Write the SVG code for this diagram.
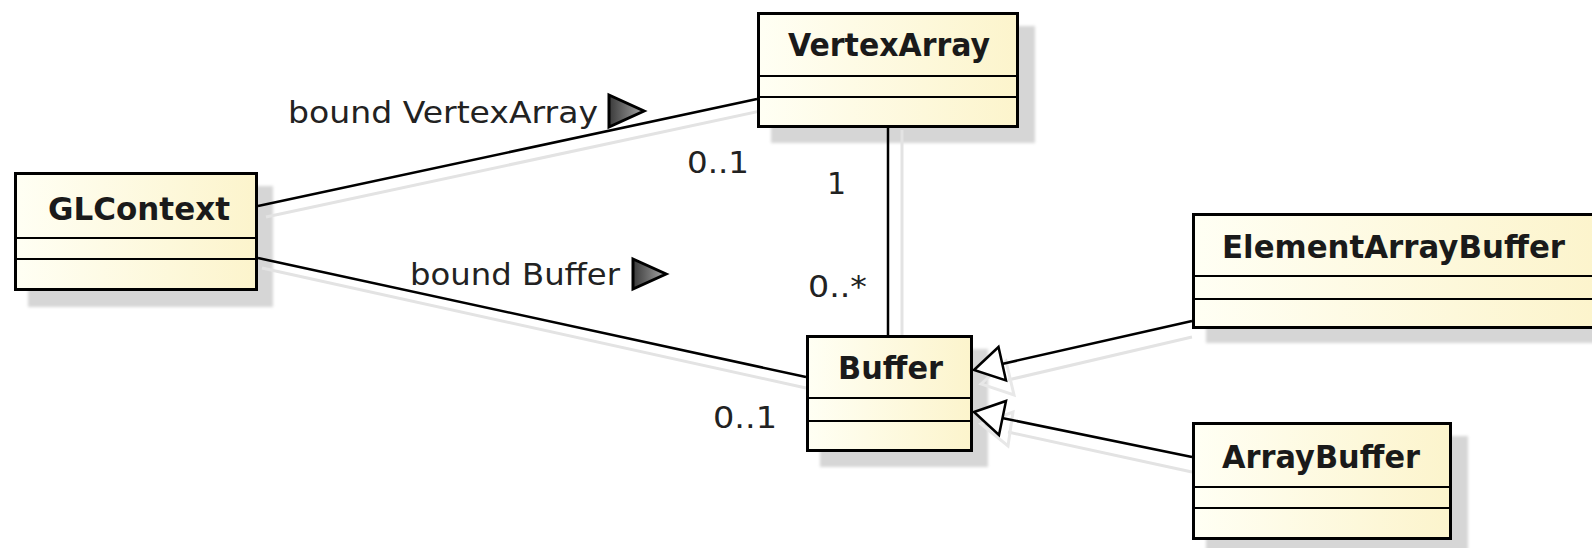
<svg xmlns="http://www.w3.org/2000/svg" width="1592" height="548" viewBox="0 0 1592 548">
<style>
.box{fill:url(#fillg);stroke:#000;stroke-width:3}
.div{stroke:#000;stroke-width:2}
.shadow{fill:#d6d6d6;filter:url(#blur)}
.name{font-family:"DejaVu Sans",sans-serif;font-weight:bold;font-size:32px;fill:#1a1a1a}
.lbl{font-family:"DejaVu Sans",sans-serif;font-size:30px;fill:#222}
.conn{stroke:#000;stroke-width:2.5;fill:none}
.cshadow{stroke:#e3e3e3;stroke-width:3;fill:none}
.gen{fill:#fff;stroke:#000;stroke-width:2.5;stroke-linejoin:miter}
.dir{fill:url(#dirg);stroke:#000;stroke-width:3;stroke-linejoin:miter}
</style>
<defs>
<linearGradient id="fillg" x1="0" y1="0" x2="1" y2="0">
<stop offset="0" stop-color="#fffff4"/>
<stop offset="1" stop-color="#fcf4cc"/>
</linearGradient>
<linearGradient id="dirg" x1="0" y1="0" x2="1" y2="0">
<stop offset="0" stop-color="#3a3a3a"/>
<stop offset="1" stop-color="#a8a8a8"/>
</linearGradient>
<filter id="blur" x="-10%" y="-10%" width="120%" height="120%">
<feGaussianBlur stdDeviation="1.5"/>
</filter>
</defs>
<rect width="1592" height="548" fill="#fff"/>

<g id="shadows">
<rect class="shadow" x="28" y="186" width="245" height="121"/>
<rect class="shadow" x="771" y="26" width="264" height="117"/>
<rect class="shadow" x="820" y="349" width="168" height="118"/>
<rect class="shadow" x="1206" y="227" width="400" height="116"/>
<rect class="shadow" x="1206" y="436" width="262" height="120"/>
<line class="cshadow" x1="266" y1="217" x2="765" y2="110"/>
<line class="cshadow" x1="902" y1="130" x2="902" y2="345"/>
<line class="cshadow" x1="262" y1="268" x2="806" y2="388"/>
<line class="cshadow" x1="1192" y1="337" x2="1008" y2="380"/>
<line class="cshadow" x1="1192" y1="472" x2="1008" y2="432"/>
<polygon points="981,384 1006,361 1014,395" fill="none" stroke="#e8e8e8" stroke-width="3"/>
<polygon points="981,424 1013,412 1008,446" fill="none" stroke="#e8e8e8" stroke-width="3"/>
</g>

<g id="connectors">
<line class="conn" x1="258" y1="206" x2="757" y2="99"/>
<line class="conn" x1="888" y1="128" x2="888" y2="335"/>
<line class="conn" x1="258" y1="258" x2="806" y2="377"/>
<line class="conn" x1="1192" y1="321" x2="1002" y2="364"/>
<line class="conn" x1="1192" y1="457" x2="1002" y2="418"/>
<polygon class="gen" points="974,370 998.5,347 1006,380.5"/>
<polygon class="gen" points="974,412 1006,401 999,435"/>
<polygon class="dir" points="609,95 644,111 609,127"/>
<polygon class="dir" points="633,259 666,274 633,289"/>
<text class="lbl" x="288" y="123" textLength="310" lengthAdjust="spacingAndGlyphs">bound VertexArray</text>
<text class="lbl" x="410" y="285" textLength="210" lengthAdjust="spacingAndGlyphs">bound Buffer</text>
<text class="lbl" x="687" y="173" textLength="62" lengthAdjust="spacingAndGlyphs">0..1</text>
<text class="lbl" x="827" y="194">1</text>
<text class="lbl" x="808" y="297" textLength="59" lengthAdjust="spacingAndGlyphs">0..*</text>
<text class="lbl" x="713" y="428" textLength="64" lengthAdjust="spacingAndGlyphs">0..1</text>
</g>

<g id="GLContext">
<rect class="box" x="15.5" y="173.5" width="241" height="116"/>
<line class="div" x1="15.5" y1="238" x2="256.5" y2="238"/>
<line class="div" x1="15.5" y1="259" x2="256.5" y2="259"/>
<text class="name" x="48" y="220" textLength="182" lengthAdjust="spacingAndGlyphs">GLContext</text>
</g>

<g id="VertexArray">
<rect class="box" x="758.5" y="13.5" width="259" height="113"/>
<line class="div" x1="758.5" y1="76" x2="1017.5" y2="76"/>
<line class="div" x1="758.5" y1="97" x2="1017.5" y2="97"/>
<text class="name" x="788" y="56" textLength="202" lengthAdjust="spacingAndGlyphs">VertexArray</text>
</g>

<g id="Buffer">
<rect class="box" x="807.5" y="336.5" width="164" height="114"/>
<line class="div" x1="807.5" y1="398" x2="971.5" y2="398"/>
<line class="div" x1="807.5" y1="421" x2="971.5" y2="421"/>
<text class="name" x="838" y="379" textLength="105" lengthAdjust="spacingAndGlyphs">Buffer</text>
</g>

<g id="ElementArrayBuffer">
<rect class="box" x="1193.5" y="214.5" width="404" height="113"/>
<line class="div" x1="1193.5" y1="276" x2="1597" y2="276"/>
<line class="div" x1="1193.5" y1="299" x2="1597" y2="299"/>
<text class="name" x="1222" y="258" textLength="343" lengthAdjust="spacingAndGlyphs">ElementArrayBuffer</text>
</g>

<g id="ArrayBuffer">
<rect class="box" x="1193.5" y="423.5" width="257" height="115"/>
<line class="div" x1="1193.5" y1="487" x2="1450.5" y2="487"/>
<line class="div" x1="1193.5" y1="508" x2="1450.5" y2="508"/>
<text class="name" x="1222" y="468" textLength="198" lengthAdjust="spacingAndGlyphs">ArrayBuffer</text>
</g>
</svg>
